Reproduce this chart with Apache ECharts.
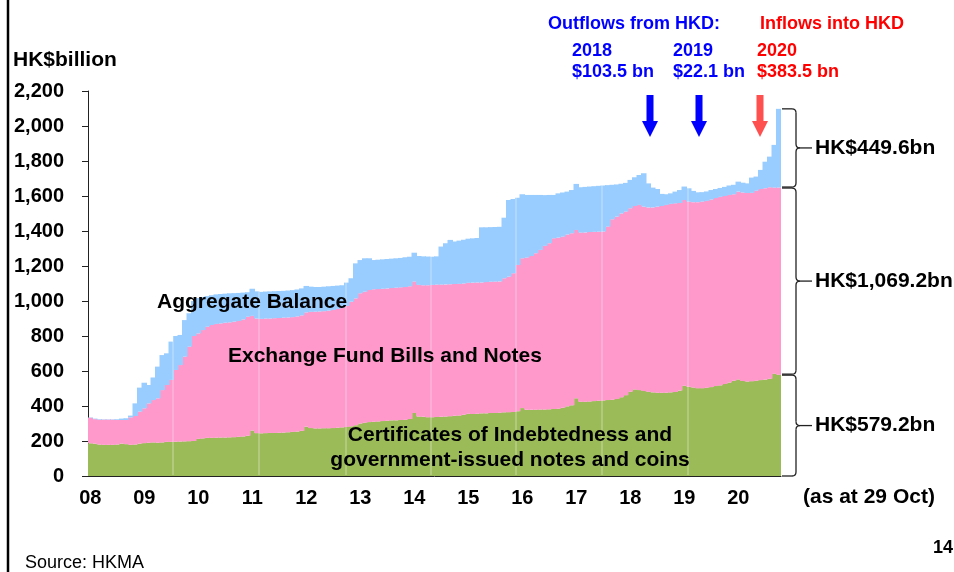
<!DOCTYPE html>
<html>
<head>
<meta charset="utf-8">
<script src="https://cdn.jsdelivr.net/npm/echarts@6/dist/echarts.min.js"></script>
<style>
  html, body { margin: 0; padding: 0; background: #fff; }
  #main { width: 954px; height: 572px; }
</style>
</head>
<body>
<div id="main"></div>
<script>
// monthly, Jan 2008 .. Oct 2020 (HK$ bn)
const yearLabels = ['08', '09', '10', '11', '12', '13', '14', '15', '16', '17', '18', '19', '20'];

const months = [];
for (let y = 2008; y <= 2020; y++) {
  for (let m = 1; m <= 12; m++) {
    if (y === 2020 && m > 10) break;
    months.push(y + '-' + String(m).padStart(2, '0'));
  }
}

// Certificates of Indebtedness and government-issued notes and coins
const certs = [
  187, 185, 180, 178, 178, 178, 180, 185, 182, 178, 180, 185,
  188, 190, 192, 190, 192, 195, 195, 196, 197, 198, 199, 200,
  212, 215, 218, 218, 219, 220, 220, 221, 222, 224, 226, 230,
  260, 245, 244, 245, 246, 246, 247, 248, 250, 252, 254, 258,
  282, 274, 272, 272, 273, 273, 274, 276, 278, 280, 284, 290,
  300, 305, 308, 310, 312, 314, 316, 318, 318, 320, 322, 326,
  360, 340, 338, 336, 336, 337, 338, 340, 342, 344, 346, 350,
  356, 355, 356, 358, 358, 360, 360, 362, 364, 365, 366, 370,
  388, 378, 378, 379, 380, 380, 381, 383, 385, 390, 398, 404,
  444, 425, 425, 426, 428, 430, 432, 434, 436, 440, 450, 462,
  482, 495, 491, 486, 482, 478, 476, 476, 476, 478, 480, 488,
  516, 510, 506, 502, 502, 505, 508, 514, 518, 526, 534, 544,
  552, 543, 540, 542, 545, 548, 551, 556, 585, 579.2
];

// Exchange Fund Bills and Notes
const efbn = [
  146, 140, 142, 144, 144, 144, 140, 135, 138, 157, 163, 183,
  199, 225, 242, 254, 299, 325, 354, 410, 437, 484, 540, 600,
  603, 619, 635, 645, 650, 652, 656, 657, 660, 662, 669, 680,
  655, 655, 654, 655, 654, 656, 656, 657, 656, 656, 658, 660,
  653, 664, 667, 668, 669, 672, 675, 679, 684, 692, 712, 725,
  744, 748, 755, 757, 756, 756, 756, 756, 758, 758, 758, 758,
  751, 752, 752, 754, 756, 757, 756, 755, 754, 753, 752, 750,
  748, 750, 750, 748, 750, 750, 751, 750, 766, 774, 792, 836,
  856, 870, 879, 894, 912, 935, 949, 975, 977, 978, 982, 983,
  962, 966, 967, 968, 967, 966, 965, 991, 1031, 1042, 1050, 1049,
  1048, 1048, 1058, 1053, 1053, 1057, 1063, 1067, 1073, 1077, 1078, 1072,
  1061, 1058, 1059, 1063, 1066, 1067, 1072, 1074, 1077, 1074, 1072, 1066,
  1073, 1077, 1077, 1076, 1085, 1092, 1094, 1094, 1063, 1069.2
];

// Aggregate Balance
const aggBal = [
  2, 3, 3, 2, 2, 2, 4, 8, 10, 10, 72, 137,
  146, 105, 129, 181, 200, 181, 219, 194, 172, 209, 191, 200,
  202, 188, 175, 170, 169, 168, 166, 166, 163, 160, 153, 140,
  155, 155, 154, 154, 155, 154, 154, 153, 154, 154, 154, 154,
  151, 144, 141, 140, 140, 139, 137, 133, 128, 133, 134, 200,
  190, 191, 181, 167, 168, 168, 168, 168, 168, 168, 170, 169,
  165, 165, 165, 164, 161, 161, 217, 235, 253, 243, 247, 250,
  252, 253, 254, 315, 313, 312, 312, 312, 346, 438, 425, 384,
  366, 358, 349, 333, 314, 290, 276, 248, 253, 252, 245, 247,
  263, 259, 260, 260, 261, 262, 263, 237, 197, 184, 170, 164,
  162, 164, 171, 191, 137, 113, 101, 69, 61, 60, 67, 74,
  77, 76, 64, 56, 54, 54, 54, 52, 51, 52, 54, 54,
  57, 56, 55, 87, 81, 109, 151, 175, 244, 449.6
];

const FONT = 'Arial, "Liberation Sans", sans-serif';
const GREEN = '#9BBB59', PINK = '#FF99CC', BLUE = '#99CCFF';

const chart = echarts.init(document.getElementById('main'));

const txt = (text, x, y, size, color, align, weight) => ({
  type: 'text',
  z: 20,
  style: {
    text: text, x: x, y: y,
    font: (weight || 'bold') + ' ' + size + 'px ' + FONT,
    fill: color || '#000',
    textAlign: align || 'left',
    textVerticalAlign: 'middle'
  }
});

const arrow = (cx, color) => ({
  type: 'polygon',
  z: 20,
  shape: {
    points: [[cx - 3.5, 95], [cx + 3.5, 95], [cx + 3.5, 121], [cx + 8, 121],
             [cx, 137], [cx - 8, 121], [cx - 3.5, 121]]
  },
  style: { fill: color }
});

// bars a little wider than a month band so neighbours overlap and leave no seams
const barSeries = (name, data, color) => ({
  name: name,
  type: 'bar',
  stack: 'base',
  data: data,
  barWidth: 5.5,
  itemStyle: { color: color },
  emphasis: { disabled: true }
});

const option = {
  animation: false,
  backgroundColor: '#fff',
  textStyle: { fontFamily: FONT },
  grid: { left: 88, top: 91, width: 693, height: 385 },
  xAxis: {
    type: 'category',
    data: months,
    boundaryGap: true,
    axisLine: { lineStyle: { color: '#222', width: 1 } },
    axisTick: {
      interval: (i) => i % 12 === 0,
      length: 6,
      lineStyle: { color: '#222' }
    },
    axisLabel: {
      interval: (i) => i % 12 === 0,
      formatter: (v, i) => yearLabels[i / 12],
      fontSize: 20,
      fontWeight: 'bold',
      color: '#000',
      margin: 12
    }
  },
  yAxis: {
    type: 'value',
    min: 0,
    max: 2200,
    interval: 200,
    axisLine: { show: true, lineStyle: { color: '#222', width: 1 } },
    axisTick: { show: true, length: 6, lineStyle: { color: '#222' } },
    splitLine: { show: false },
    axisLabel: {
      formatter: (v) => v.toLocaleString('en-US'),
      fontSize: 20,
      fontWeight: 'bold',
      color: '#000',
      margin: 24
    }
  },
  series: [
    barSeries('Certificates of Indebtedness and government-issued notes and coins', certs, GREEN),
    barSeries('Exchange Fund Bills and Notes', efbn, PINK),
    barSeries('Aggregate Balance', aggBal, BLUE)
  ]
};
chart.setOption(option);

// annotations, braces placed from the data end values
const last = months.length - 1;
const xa = chart.convertToPixel({ xAxisIndex: 0 }, months[last]);
const xb = chart.convertToPixel({ xAxisIndex: 0 }, months[last - 1]);
const x0 = xa + (xa - xb) / 2 + 1;
const yOf = (v) => chart.convertToPixel({ yAxisIndex: 0 }, v);
const c = certs[last], e = efbn[last], a = aggBal[last];

const braceStyle = { stroke: '#222', lineWidth: 1.3, fill: null };
const seg = (x1, y1, x2, y2) => ({ type: 'line', shape: { x1: x1, y1: y1, x2: x2, y2: y2 }, style: braceStyle });
const crv = (x1, y1, cx, cy, x2, y2) => ({
  type: 'bezierCurve',
  shape: { x1: x1, y1: y1, cpx1: cx, cpy1: cy, x2: x2, y2: y2 },
  style: braceStyle
});
const brace = (yT, yB) => {
  const ym = (yT + yB) / 2, xv = x0 + 14;
  return {
    type: 'group', z: 20,
    children: [
      seg(x0, yT, x0 + 10, yT),
      crv(x0 + 10, yT, xv, yT, xv, yT + 4),
      seg(xv, yT + 4, xv, ym - 4),
      crv(xv, ym - 4, xv, ym, xv + 4, ym),
      seg(xv + 4, ym, x0 + 30, ym),
      crv(xv + 4, ym, xv, ym, xv, ym + 4),
      seg(xv, ym + 4, xv, yB - 4),
      crv(xv, yB - 4, xv, yB, x0 + 10, yB),
      seg(x0 + 10, yB, x0, yB)
    ]
  };
};
const fmt = (v) => 'HK$' + v.toLocaleString('en-US', { minimumFractionDigits: 1, maximumFractionDigits: 1 }) + 'bn';

const yTot = yOf(c + e + a), yCE = yOf(c + e), yC = yOf(c), yZero = yOf(0);

const seams = [173, 259, 346, 431, 516, 602, 688].map((x) => ({
  type: 'line', z: 15,
  shape: { x1: x, y1: 110, x2: x, y2: 475 },
  style: { stroke: 'rgba(255,255,255,0.45)', lineWidth: 1 }
}));

chart.setOption({
  graphic: [
    { type: 'line', z: 20, shape: { x1: 8, y1: 0, x2: 8, y2: 572 }, style: { stroke: '#000', lineWidth: 2.5 } },
    txt('HK$billion', 13, 60, 21),
    txt('Outflows from HKD:', 548, 24, 18, '#0000FF'),
    txt('Inflows into HKD', 760, 24, 18, '#FF0000'),
    txt('2018', 572, 51, 18, '#0000FF'),
    txt('$103.5 bn', 572, 72, 18, '#0000FF'),
    txt('2019', 673, 51, 18, '#0000FF'),
    txt('$22.1 bn', 673, 72, 18, '#0000FF'),
    txt('2020', 757, 51, 18, '#FF0000'),
    txt('$383.5 bn', 757, 72, 18, '#FF0000'),
    arrow(650, '#0000FF'),
    arrow(699, '#0000FF'),
    arrow(760, '#FF5050'),
    txt('Aggregate Balance', 157, 302, 21),
    txt('Exchange Fund Bills and Notes', 228, 356, 21),
    txt('Certificates of Indebtedness and', 510, 435, 21, '#000', 'center'),
    txt('government-issued notes and coins', 510, 460, 21, '#000', 'center'),
    brace(yTot, yCE - 0.5),
    brace(yCE + 0.5, yC - 0.5),
    brace(yC + 0.5, yZero),
    txt(fmt(a), x0 + 33, (yTot + yCE) / 2, 21),
    txt(fmt(e), x0 + 33, (yCE + yC) / 2, 21),
    txt(fmt(c), x0 + 33, (yC + yZero) / 2, 21),
    txt('(as at 29 Oct)', 803, 497, 21),
    txt('Source: HKMA', 25, 563, 18, '#000', 'left', 'normal'),
    txt('14', 933, 548, 18)
  ].concat(seams)
});
</script>
</body>
</html>
